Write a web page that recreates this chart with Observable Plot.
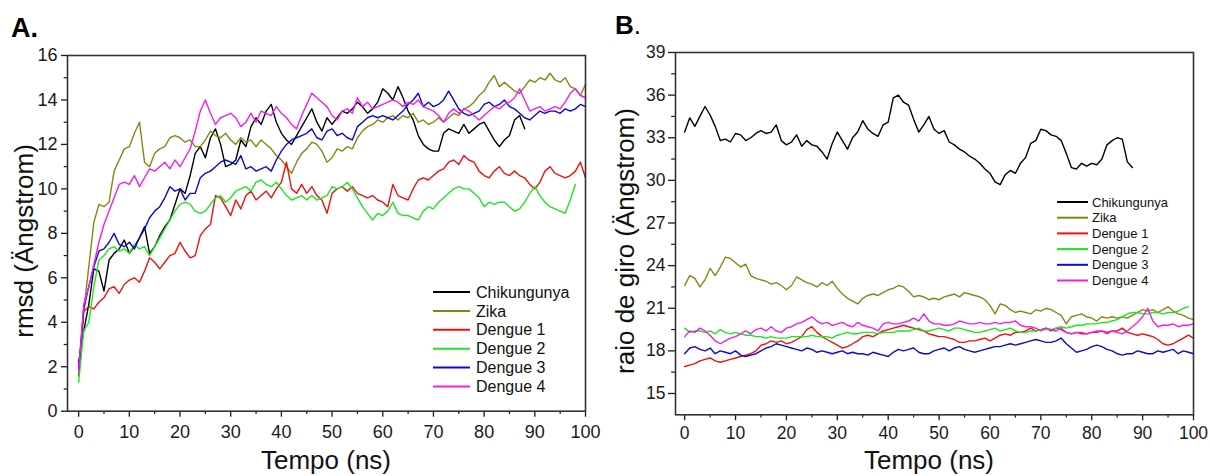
<!DOCTYPE html>
<html><head><meta charset="utf-8">
<script src="https://cdn.jsdelivr.net/npm/d3@7"></script>
<script src="https://cdn.jsdelivr.net/npm/@observablehq/plot@0.6"></script>
<style>
body{margin:0;background:#fff;}
#wrap{position:relative;width:1210px;height:476px;overflow:hidden;background:#fff;}
.panel{position:absolute;top:0;}
#overlay{position:absolute;left:0;top:0;pointer-events:none;}
</style></head><body>
<div id="wrap"></div>
<script>
// ---------- categories & styling ----------
const seriesNames = ["Chikungunya", "Zika", "Dengue 1", "Dengue 2", "Dengue 3", "Dengue 4"];
const seriesColors = ["#000000", "#868615", "#f01010", "#1ee61e", "#0a0ad0", "#f01ef0"];

// ---------- tick values ----------
const xMajor = [0, 10, 20, 30, 40, 50, 60, 70, 80, 90, 100];
const xMinor = [5, 15, 25, 35, 45, 55, 65, 75, 85, 95];
const yMajorA = [0, 2, 4, 6, 8, 10, 12, 14, 16];
const yMinorA = [1, 3, 5, 7, 9, 11, 13, 15];
const yMajorB = [15, 18, 21, 24, 27, 30, 33, 36, 39];
const yMinorB = [16.5, 19.5, 22.5, 25.5, 28.5, 31.5, 34.5, 37.5];

// ---------- time axis (ns), 1 ns sampling ----------
const time = d3.range(0, 101);

// ---------- Panel A: rmsd (Angstrom) ----------
const rmsdChikungunya = [2.2,3.6,4.8,6.4,6.3,5.4,6.8,7.1,7.3,7.7,7.1,7.4,7.8,8.3,7.1,7.4,7.9,8.3,8.6,9.3,10.0,9.8,10.6,11.6,11.9,11.4,12.3,12.7,12.0,11.0,11.1,11.3,12.2,11.9,12.8,13.2,12.9,13.5,13.8,13.0,12.5,12.2,12.0,12.4,12.8,13.2,13.6,13.0,12.6,13.2,12.9,13.2,13.5,13.4,13.6,13.9,13.7,13.4,13.6,13.9,14.5,14.3,14.0,14.6,14.1,13.5,13.1,12.4,12.0,11.8,11.7,11.7,12.5,12.7,12.6,12.5,12.9,12.5,12.7,12.9,13.0,12.6,12.2,11.9,12.2,12.4,13.1,13.3,12.7];
const rmsdZika = [1.6,4.5,6.5,8.5,9.3,9.2,9.4,10.8,11.3,11.8,11.9,12.5,13.0,11.2,11.0,11.6,11.8,11.9,12.3,12.4,12.3,12.1,12.2,11.9,11.9,12.2,12.6,12.4,12.3,12.5,12.2,12.0,12.3,12.1,12.2,11.9,12.2,12.0,11.8,11.5,11.3,11.0,10.7,11.2,11.6,11.8,12.1,12.0,11.7,11.2,11.4,11.8,11.7,11.9,11.8,12.3,12.6,12.8,12.9,13.1,13.0,13.2,13.3,13.1,13.3,13.2,13.4,13.0,13.1,12.9,13.0,13.2,13.0,13.2,13.4,13.3,13.6,13.7,13.9,14.2,14.4,14.8,15.1,14.6,14.8,14.6,14.4,14.3,14.6,14.9,14.8,15.0,14.9,15.2,14.9,14.8,15.0,14.6,14.5,14.2,14.7];
const rmsdDengue1 = [1.6,4.5,4.7,4.6,4.9,5.1,5.5,5.6,5.3,5.7,5.9,6.0,5.8,6.3,6.9,6.7,6.4,6.7,7.0,7.1,7.6,7.2,6.9,7.0,7.9,8.2,8.4,9.7,9.6,9.2,8.8,9.5,9.1,9.7,9.9,9.5,9.7,9.9,9.6,10.0,10.3,11.2,10.0,9.8,10.2,9.8,10.1,9.7,9.5,8.9,9.8,10.0,10.1,9.9,10.1,9.8,9.7,9.6,9.7,9.5,9.4,9.2,10.2,9.7,9.6,9.5,10.0,10.4,10.5,10.4,10.6,10.8,10.9,11.2,11.3,11.1,11.5,11.3,11.2,10.8,10.6,10.5,10.8,11.0,10.7,10.6,10.8,10.6,10.5,10.2,10.0,10.3,10.8,11.0,10.7,10.6,10.5,10.6,10.8,11.2,10.5];
const rmsdDengue2 = [1.3,3.6,4.0,5.6,6.8,7.0,7.3,7.4,7.2,7.3,7.1,7.5,7.3,7.4,7.0,7.4,7.8,8.2,8.6,9.0,9.3,9.4,9.3,9.0,8.9,9.0,9.3,9.6,9.7,9.4,9.6,9.9,10.0,10.1,9.9,10.3,10.4,10.2,10.1,10.3,10.0,9.7,9.5,9.6,9.7,9.5,9.7,9.5,9.6,9.7,10.1,10.0,10.1,10.3,10.0,9.6,9.2,8.9,8.6,8.9,8.8,9.0,9.4,8.9,8.8,8.8,8.7,8.6,9.0,9.2,9.1,9.4,9.6,9.8,10.0,10.1,10.0,10.0,9.8,9.6,9.2,9.4,9.3,9.4,9.4,9.2,9.0,9.1,9.4,9.8,10.1,9.7,9.4,9.2,9.1,9.0,8.9,9.5,10.2];
const rmsdDengue3 = [1.9,4.6,5.6,6.5,7.2,7.3,7.6,8.0,7.5,7.4,7.6,7.3,7.8,8.2,8.7,9.0,9.2,9.6,10.1,9.9,10.0,9.5,9.8,9.8,10.5,10.7,10.8,11.0,11.2,11.3,11.2,11.1,11.5,10.9,11.0,10.8,10.9,11.0,10.8,11.3,11.7,12.0,12.2,12.3,12.4,12.5,12.7,12.3,12.2,12.6,12.7,12.4,12.5,12.3,12.2,12.8,13.0,13.2,13.3,13.2,13.3,13.2,13.1,13.3,13.5,13.8,14.0,14.3,13.7,13.9,13.7,13.8,14.0,14.4,14.0,13.6,13.4,13.3,13.4,13.5,13.8,13.9,13.7,13.8,14.0,13.7,13.6,13.4,13.2,13.1,13.3,13.5,13.4,13.5,13.5,13.4,13.6,13.5,13.6,13.8,13.7];
const rmsdDengue4 = [1.8,4.8,5.6,6.6,7.6,8.4,9.0,9.6,10.2,10.3,10.2,10.6,10.1,10.5,10.9,10.8,11.0,11.2,10.9,11.3,11.0,11.4,11.8,12.6,13.5,14.0,13.4,12.9,13.2,13.3,13.4,13.2,12.8,13.0,13.4,13.0,13.5,13.4,13.3,13.7,13.4,13.2,12.9,12.7,13.3,13.8,14.3,14.1,13.9,13.7,13.3,13.1,13.5,13.6,13.4,14.1,13.7,13.9,13.6,13.7,13.8,13.9,14.0,13.9,13.7,13.9,13.8,14.0,13.7,13.6,13.5,13.3,13.0,13.4,13.6,13.4,13.6,13.5,13.3,13.1,13.3,13.5,13.7,13.6,13.8,13.9,14.1,14.5,14.0,13.5,13.6,13.7,13.5,13.6,13.7,13.6,13.9,14.3,14.5,14.2,14.1];

// ---------- Panel B: raio de giro (Angstrom) ----------
const rgChikungunya = [33.4,34.4,33.8,34.5,35.2,34.6,33.8,32.8,32.9,32.7,33.3,33.2,32.8,33.0,33.3,33.5,33.3,33.4,33.9,32.8,32.5,32.7,33.2,32.4,32.8,32.5,32.4,32.0,31.5,32.6,33.4,32.8,32.2,33.0,33.4,34.2,33.6,33.3,33.1,33.9,34.1,35.8,36.0,35.5,35.3,34.3,33.4,33.9,34.5,33.6,33.3,33.5,32.7,32.5,32.2,32.0,31.7,31.5,31.2,30.8,30.5,29.9,29.7,30.4,30.7,30.5,31.2,31.6,32.6,32.8,33.6,33.5,33.2,33.1,32.8,31.9,30.9,30.8,31.2,31.0,31.2,31.1,31.5,32.5,32.8,33.0,32.9,31.3,30.9];
const rgZika = [22.6,23.3,23.1,22.5,23.0,23.8,23.3,23.9,24.6,24.5,24.2,23.9,24.1,23.3,23.1,23.0,22.9,22.7,22.8,22.6,22.3,22.6,23.2,23.0,22.8,22.7,22.5,22.8,22.6,22.9,22.4,22.0,21.7,21.5,21.3,21.7,21.9,22.0,21.9,22.1,22.3,22.4,22.6,22.5,22.2,21.8,21.9,21.8,21.6,21.7,21.6,21.8,21.9,22.0,21.8,22.1,22.0,21.9,21.8,21.6,21.2,20.6,21.3,21.2,20.9,20.7,20.8,20.7,20.6,20.9,20.8,21.0,20.9,20.7,20.5,19.9,20.4,20.5,20.6,20.4,20.3,20.1,20.4,20.3,20.4,20.3,20.4,20.3,20.5,20.7,20.9,20.8,20.9,20.7,20.9,21.1,20.8,20.6,20.5,20.3,20.2];
const rgDengue1 = [16.9,17.0,17.1,17.3,17.4,17.5,17.3,17.2,17.3,17.4,17.5,17.6,17.7,17.8,18.0,18.4,18.5,18.7,18.6,18.7,18.5,18.6,18.8,19.0,19.5,19.7,19.3,19.0,18.8,18.6,18.4,18.2,18.3,18.5,18.7,19.0,19.1,19.0,19.2,19.4,19.5,19.6,19.7,19.8,19.7,19.6,19.5,19.4,19.2,19.1,19.0,19.0,18.9,18.8,18.6,18.6,18.7,18.7,18.8,18.9,18.7,18.9,19.1,19.2,19.1,19.3,19.3,19.4,19.6,19.4,19.5,19.6,19.4,19.6,19.5,19.3,19.2,19.3,19.2,19.2,19.3,19.3,19.4,19.3,19.4,19.4,19.6,19.3,19.2,19.1,19.2,19.1,19.0,18.8,18.5,18.4,18.5,18.7,18.9,19.1,18.9];
const rgDengue2 = [19.6,19.3,19.4,19.4,19.3,19.4,19.2,19.5,19.3,19.2,19.3,19.2,19.1,19.1,19.0,19.0,18.9,19.0,18.9,18.9,18.9,19.0,19.0,19.0,19.0,19.1,19.0,19.0,19.0,18.9,19.1,19.2,19.3,19.2,19.2,19.3,19.3,19.3,19.2,19.3,19.3,19.3,19.4,19.4,19.4,19.5,19.6,19.4,19.4,19.5,19.6,19.5,19.4,19.6,19.6,19.5,19.4,19.3,19.3,19.4,19.5,19.6,19.4,19.5,19.6,19.4,19.3,19.3,19.4,19.4,19.5,19.5,19.5,19.6,19.7,19.6,19.7,19.8,19.8,19.9,19.9,19.9,20.0,20.0,20.1,20.2,20.4,20.6,20.7,20.7,20.6,20.6,20.7,20.7,20.6,20.7,20.7,20.8,21.0,21.1];
const rgDengue3 = [17.8,18.2,18.3,18.1,18.0,18.2,17.8,18.0,17.9,17.8,18.0,17.7,17.6,17.7,17.8,18.0,18.2,18.3,18.5,18.4,18.3,18.2,18.1,18.0,18.2,18.1,17.9,18.0,17.9,17.8,17.9,18.0,17.8,17.9,17.8,17.8,17.7,17.9,17.8,17.7,17.6,17.9,18.1,18.0,18.1,18.2,17.9,17.8,17.8,18.0,18.1,18.2,18.0,18.2,18.3,18.1,18.0,17.9,18.0,18.1,18.2,18.3,18.3,18.4,18.5,18.4,18.5,18.6,18.7,18.8,18.7,18.6,18.6,18.7,18.9,18.5,18.2,17.9,18.0,18.1,18.3,18.4,18.3,18.1,18.0,17.8,17.7,17.8,17.8,18.0,17.9,17.8,17.8,18.0,17.9,18.0,18.1,17.8,18.0,17.9,17.8];
const rgDengue4 = [19.0,19.4,19.3,19.6,19.4,19.1,18.7,18.5,18.7,18.9,19.0,19.2,19.4,19.2,19.5,19.6,19.4,19.7,19.4,19.3,19.6,19.7,19.9,20.0,20.2,20.4,20.1,19.9,20.0,19.8,19.9,20.0,19.8,19.7,20.0,19.8,19.7,19.6,19.4,19.9,20.0,19.9,19.9,20.0,20.1,20.3,20.1,20.6,20.1,19.9,19.9,19.8,19.8,19.9,20.1,20.0,19.9,19.9,20.0,19.9,19.9,20.0,19.9,20.0,20.0,20.1,19.8,19.7,19.7,19.6,19.4,19.6,19.5,19.4,19.6,19.3,19.2,19.3,19.3,19.2,19.3,19.4,19.4,19.2,19.4,19.3,19.2,19.4,19.7,20.0,20.4,21.0,20.1,19.7,19.8,19.8,19.9,19.7,19.8,19.8,19.9];

// ---------- tidy tables ----------
function tidy(seriesLists) {
  const rows = [];
  seriesLists.forEach((vals, k) => vals.forEach((v, i) => rows.push({series: seriesNames[k], t: time[i], v})));
  return rows;
}
const dataA = tidy([rmsdChikungunya, rmsdZika, rmsdDengue1, rmsdDengue2, rmsdDengue3, rmsdDengue4]);
const dataB = tidy([rgChikungunya, rgZika, rgDengue1, rgDengue2, rgDengue3, rgDengue4]);

const FONT = "'Liberation Sans', Arial, Helvetica, sans-serif";
const wrap = document.getElementById("wrap");

function panel({data, width, left, mL, mR, mT, mB, xDom, yDom, yMaj, yMin, fs, tsY, tpY, tsX, tpX}) {
  const p = Plot.plot({
    width, height: 476,
    marginLeft: mL, marginRight: mR, marginTop: mT, marginBottom: mB,
    x: {domain: xDom},
    y: {domain: yDom},
    color: {domain: seriesNames, range: seriesColors},
    style: {fontFamily: FONT, fontSize: fs + "px", color: "#1a1a1a", background: "transparent", overflow: "visible"},
    marks: [
      Plot.lineY(data, {x: "t", y: "v", z: "series", stroke: "series", strokeWidth: 1.4, curve: "linear"}),
      Plot.axisX({ticks: xMajor, tickSize: tsX, tickPadding: tpX, label: null, tickFormat: d => String(d), strokeWidth: 1.3}),
      Plot.axisX({ticks: xMinor, tickSize: tsX * 0.55, label: null, tickFormat: () => "", strokeWidth: 1.2}),
      Plot.axisY({ticks: yMaj, tickSize: tsY, tickPadding: tpY, label: null, tickFormat: d => String(d), strokeWidth: 1.3}),
      Plot.axisY({ticks: yMin, tickSize: tsY * 0.55, label: null, tickFormat: () => "", strokeWidth: 1.2}),
      Plot.frame({stroke: "#333", strokeWidth: 1.6})
    ]
  });
  p.classList.add("panel");
  p.style.left = left + "px";
  wrap.appendChild(p);
}

panel({data: dataA, width: 600, left: 0, mL: 67, mR: 15, mT: 55, mB: 65.3,
  xDom: [-2.2, 100], yDom: [0, 16], yMaj: yMajorA, yMin: yMinorA, fs: 18,
  tsY: 6, tpY: 4, tsX: 6, tpX: 8});
panel({data: dataB, width: 610, left: 600, mL: 75, mR: 17, mT: 52, mB: 61.7,
  xDom: [-1.8, 100], yDom: [13.5, 39], yMaj: yMajorB, yMin: yMinorB, fs: 17.5,
  tsY: 7, tpY: 3, tsX: 6, tpX: 6});

// ---------- overlay: panel letters, axis titles, legends ----------
const NS = "http://www.w3.org/2000/svg";
const ov = document.createElementNS(NS, "svg");
ov.setAttribute("id", "overlay");
ov.setAttribute("width", 1210);
ov.setAttribute("height", 476);
ov.setAttribute("font-family", FONT);
wrap.appendChild(ov);

function txt(str, attrs) {
  const t = document.createElementNS(NS, "text");
  for (const k in attrs) t.setAttribute(k, attrs[k]);
  t.textContent = str;
  ov.appendChild(t);
  return t;
}
txt("A.", {x: 11, y: 37, "font-size": 27, "font-weight": "bold", fill: "#000"});
const tb = txt("", {x: 615, y: 34, "font-size": 26, fill: "#000"});
const tbB = document.createElementNS(NS, "tspan"); tbB.setAttribute("font-weight", "bold"); tbB.textContent = "B"; tb.appendChild(tbB);
const tbD = document.createElementNS(NS, "tspan"); tbD.textContent = "."; tb.appendChild(tbD);

txt("Tempo (ns)", {x: 326, y: 469, "font-size": 26, "text-anchor": "middle", fill: "#111"});
txt("Tempo (ns)", {x: 929, y: 469, "font-size": 26, "text-anchor": "middle", fill: "#111"});
txt("rmsd (Ängstrom)", {transform: "translate(24,241) rotate(-90)", dy: "0.36em", "font-size": 26, "text-anchor": "middle", fill: "#111"});
txt("raio de giro (Ängstrom)", {transform: "translate(625,241) rotate(-90)", dy: "0.36em", "font-size": 26, "text-anchor": "middle", fill: "#111"});

function legend(x0, x1, xt, y0, dy, fs) {
  seriesNames.forEach((name, i) => {
    const y = y0 + i * dy;
    const l = document.createElementNS(NS, "line");
    l.setAttribute("x1", x0); l.setAttribute("x2", x1);
    l.setAttribute("y1", y); l.setAttribute("y2", y);
    l.setAttribute("stroke", seriesColors[i]); l.setAttribute("stroke-width", 2);
    ov.appendChild(l);
    txt(name, {x: xt, y: y, dy: "0.35em", "font-size": fs, fill: "#111"});
  });
}
legend(433, 470, 476, 292, 18.9, 16);
legend(1057, 1088, 1092, 202, 15.7, 13);
</script>
</body></html>
